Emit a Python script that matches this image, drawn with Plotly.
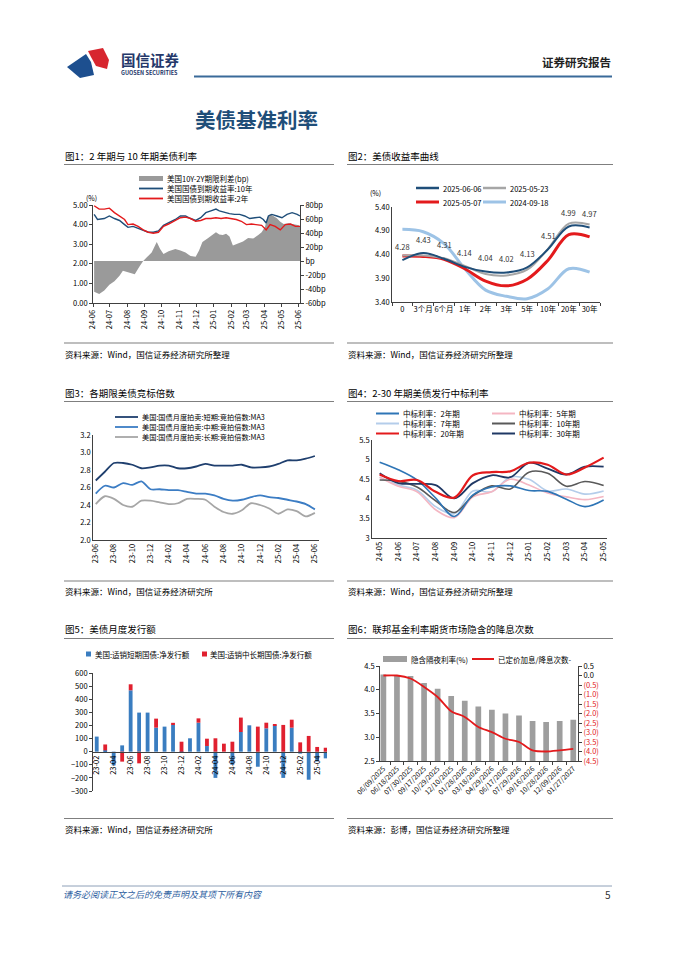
import plotly.graph_objects as go

W, H = 677, 957
FONT = "Noto Sans CJK SC"

# ================= DATA =================
# Chart 1: 2Y / 10Y UST yields (%) and 10Y-2Y spread (bp)
c1_10y_dates = ["2024-06-03","2024-06-09","2024-06-21","2024-06-30","2024-07-09","2024-07-18","2024-07-27","2024-08-02","2024-08-11","2024-08-20",
                "2024-08-29","2024-09-07","2024-09-16","2024-09-25","2024-10-04","2024-10-13","2024-10-25","2024-11-03","2024-11-12","2024-11-21",
                "2024-11-30","2024-12-09","2024-12-18","2024-12-27","2025-01-05","2025-01-11","2025-01-20","2025-01-29","2025-02-07","2025-02-16",
                "2025-02-25","2025-03-06","2025-03-15","2025-03-24","2025-03-30","2025-04-04","2025-04-08","2025-04-14","2025-04-23","2025-05-02",
                "2025-05-11","2025-05-20","2025-05-29","2025-06-03"]
c1_10y = [4.52,4.26,4.31,4.44,4.31,4.21,4.00,3.86,3.91,3.82,
          3.73,3.61,3.61,3.68,3.96,4.08,4.26,4.44,4.44,4.31,
          4.21,4.35,4.61,4.70,4.79,4.70,4.61,4.56,4.52,4.52,
          4.44,4.31,4.35,4.38,4.26,4.08,4.44,4.52,4.44,4.35,
          4.52,4.61,4.52,4.44]
c1_2y_dates = ["2024-06-03","2024-06-12","2024-06-21","2024-06-30","2024-07-09","2024-07-18","2024-07-27","2024-08-02","2024-08-11","2024-08-20",
               "2024-08-29","2024-09-07","2024-09-16","2024-09-25","2024-10-04","2024-10-13","2024-10-25","2024-11-03","2024-11-12","2024-11-21",
               "2024-11-30","2024-12-09","2024-12-18","2024-12-27","2025-01-05","2025-01-14","2025-01-23","2025-02-01","2025-02-10","2025-02-19",
               "2025-02-28","2025-03-09","2025-03-18","2025-03-27","2025-04-04","2025-04-11","2025-04-20","2025-04-29","2025-05-08","2025-05-17",
               "2025-05-26","2025-06-03"]
c1_2y = [4.96,4.79,4.79,4.84,4.61,4.44,4.26,4.00,4.03,3.91,
         3.73,3.61,3.56,3.61,3.91,4.03,4.21,4.35,4.38,4.31,
         4.17,4.21,4.31,4.31,4.35,4.31,4.35,4.31,4.26,4.17,
         4.00,4.03,4.00,3.96,3.73,4.00,3.91,3.73,4.00,4.03,
         3.91,3.91]
c1_spread_dates = ["2024-06-03","2024-06-12","2024-06-21","2024-06-30","2024-07-09","2024-07-18","2024-07-24","2024-08-02","2024-08-14","2024-08-23",
                   "2024-08-29","2024-09-04","2024-09-13","2024-09-19","2024-09-22","2024-09-28","2024-10-04","2024-10-13","2024-10-25","2024-11-03",
                   "2024-11-12","2024-11-21","2024-11-30","2024-12-06","2024-12-12","2024-12-21","2024-12-30","2025-01-05","2025-01-11","2025-01-17",
                   "2025-01-23","2025-01-29","2025-02-04","2025-02-13","2025-02-22","2025-03-03","2025-03-12","2025-03-21","2025-03-27","2025-04-02",
                   "2025-04-06","2025-04-11","2025-04-17","2025-04-23","2025-04-29","2025-05-05","2025-05-14","2025-05-23","2025-06-01","2025-06-03"]
c1_spread = [-44,-47,-42,-34,-29,-21,-14,-16,-19,-7,
             0,5,12,22,27,17,10,14,17,15,
             12,7,6,15,27,32,37,41,38,37,
             39,35,22,25,28,33,32,37,41,49,
             62,67,64,61,56,53,54,52,51,49]
c1_bp_ticks = [80, 60, 40, 20, 0, -20, -40, -60]
c1_bp_labels = ["80bp", "60bp", "40bp", "20bp", "bp", "-20bp", "-40bp", "-60bp"]

# Chart 2: yield curves (%)
c2_tenors = ["0", "3个月", "6个月", "1年", "2年", "3年", "5年", "10年", "20年", "30年"]
c2_20250606 = [4.28, 4.43, 4.31, 4.14, 4.04, 4.02, 4.13, 4.51, 4.99, 4.97]
c2_20250523 = [4.38, 4.38, 4.32, 4.16, 3.99, 3.96, 4.08, 4.52, 5.05, 5.03]
c2_20250507 = [4.37, 4.36, 4.30, 4.10, 3.84, 3.74, 3.88, 4.28, 4.82, 4.77]
c2_20240918 = [4.93, 4.88, 4.63, 4.10, 3.65, 3.52, 3.47, 3.68, 4.10, 4.03]

# Chart 3: bid-to-cover MA3
c3_months = ["23-06","23-07","23-08","23-09","23-10","23-11","23-12","24-01","24-02","24-03","24-04","24-05","24-06",
             "24-07","24-08","24-09","24-10","24-11","24-12","25-01","25-02","25-03","25-04","25-05","25-06"]
c3_short = [2.68,2.78,2.88,2.88,2.86,2.82,2.83,2.85,2.85,2.82,2.82,2.84,2.87,2.85,2.85,2.85,2.86,2.83,2.83,2.84,2.87,2.91,2.91,2.93,2.96]
c3_mid   = [2.53,2.62,2.60,2.65,2.63,2.67,2.58,2.58,2.57,2.57,2.55,2.53,2.53,2.51,2.47,2.45,2.46,2.49,2.51,2.49,2.48,2.46,2.44,2.41,2.35]
c3_long  = [2.41,2.50,2.47,2.40,2.38,2.45,2.45,2.43,2.41,2.42,2.47,2.47,2.46,2.38,2.32,2.30,2.34,2.42,2.40,2.36,2.30,2.35,2.33,2.27,2.31]

# Chart 4: auction high yields (%)
c4_months = ["24-05","24-06","24-07","24-08","24-09","24-10","24-11","24-12","25-01","25-02","25-03","25-04","25-05"]
c4_2y  = [4.93, 4.74, 4.48, 4.02, 3.55, 4.10, 4.30, 4.33, 4.21, 4.19, 3.99, 3.80, 3.97]
c4_5y  = [4.55, 4.32, 4.18, 3.72, 3.52, 4.05, 4.18, 4.50, 4.35, 4.15, 4.05, 3.98, 4.06]
c4_7y  = [4.55, 4.35, 4.22, 3.80, 3.62, 4.20, 4.18, 4.55, 4.50, 4.20, 4.25, 4.12, 4.20]
c4_10y = [4.48, 4.45, 4.30, 3.95, 3.65, 4.08, 4.33, 4.25, 4.68, 4.65, 4.32, 4.44, 4.34]
c4_20y = [4.62, 4.45, 4.48, 4.18, 4.03, 4.60, 4.68, 4.70, 4.92, 4.87, 4.62, 4.80, 5.05]
c4_30y = [4.65, 4.40, 4.38, 4.35, 4.01, 4.40, 4.60, 4.55, 4.92, 4.77, 4.62, 4.82, 4.82]

# Chart 5: monthly net issuance
c5_months = ["23-02","23-03","23-04","23-05","23-06","23-07","23-08","23-09","23-10","23-11","23-12","24-01","24-02","24-03",
             "24-04","24-05","24-06","24-07","24-08","24-09","24-10","24-11","24-12","25-01","25-02","25-03","25-04","25-05"]
c5_bills = [115, 10, -105, 48, 468, 298, 298, 183, 191, 205, -10, 102, 221, 43,
            -200, 0, -100, 150, 201, -115, 178, 200, -200, 183, -15, -214, -75, -51]
c5_coupons = [0, 45, 0, -76, 46, -89, 0, 69, 0, 15, 76, 0, 33, 56,
              102, 61, 76, 110, 0, 191, 43, 10, 204, 61, 71, 120, 36, 30]

# Chart 6: fed funds futures implied rate and priced cuts
c6_meetings = ["06/09/2025","06/18/2025","07/30/2025","09/17/2025","10/29/2025","12/10/2025","01/28/2026","03/18/2026",
               "04/29/2026","06/17/2026","07/29/2026","09/16/2026","10/28/2026","12/09/2026","01/27/2027"]
c6_rate = [4.32, 4.31, 4.29, 4.14, 4.02, 3.87, 3.77, 3.65, 3.58, 3.50, 3.46, 3.34, 3.32, 3.34, 3.37]
c6_cuts = [0.0, 0.0, -0.16, -0.60, -1.13, -1.88, -2.18, -2.71, -2.98, -3.33, -3.50, -3.94, -4.00, -3.94, -3.86]
c6_right_ticks = [0.5, 0.0, -0.5, -1.0, -1.5, -2.0, -2.5, -3.0, -3.5, -4.0, -4.5]

# ================= HELPERS =================
def X(p):
    return p / W

def Y(p):
    return 1 - p / H

shapes, annots = [], []

def seg(x0, x1, y, color, width):
    shapes.append(dict(type="line", xref="paper", yref="paper", x0=X(x0), x1=X(x1), y0=Y(y), y1=Y(y),
                       line=dict(color=color, width=width)))

def box(x0, y0, x1, y1, color):
    shapes.append(dict(type="rect", xref="paper", yref="paper", x0=X(x0), x1=X(x1), y0=Y(y1), y1=Y(y0),
                       fillcolor=color, line=dict(width=0)))

def txt(x, y, s, size=7.5, color="#000", xanchor="left", yanchor="middle"):
    annots.append(dict(xref="paper", yref="paper", x=X(x), y=Y(y), text=s, showarrow=False,
                       xanchor=xanchor, yanchor=yanchor, borderpad=0,
                       font=dict(family=FONT, size=size, color=color)))

AX = dict(showline=True, linecolor="#404040", linewidth=0.8, showgrid=False, zeroline=False, automargin=False,
          ticks="outside", ticklen=3, tickcolor="#404040", tickwidth=0.8,
          tickfont=dict(family=FONT, size=7.5, color="#000"))

NAVY = "#1f4e79"
RED = "#e31a1c"
GRAY = "#a6a6a6"

fig = go.Figure()

# ---------- Chart 1 ----------
fig.add_trace(go.Scatter(x=c1_spread_dates, y=c1_spread, xaxis="x", yaxis="y", mode="lines",
                         line=dict(width=0, color="#9a9a9a"), fill="tozeroy", fillcolor="#9a9a9a"))
fig.add_trace(go.Scatter(x=c1_10y_dates, y=c1_10y, xaxis="x", yaxis="y2", mode="lines",
                         line=dict(color=NAVY, width=1.4)))
fig.add_trace(go.Scatter(x=c1_2y_dates, y=c1_2y, xaxis="x", yaxis="y2", mode="lines",
                         line=dict(color=RED, width=1.4)))

# ---------- Chart 2 ----------
for ys, col, wd in [(c2_20240918, "#9dc3e6", 3), (c2_20250507, RED, 3),
                    (c2_20250523, GRAY, 2), (c2_20250606, NAVY, 2)]:
    fig.add_trace(go.Scatter(x=c2_tenors, y=ys, xaxis="x2", yaxis="y3", mode="lines",
                             line=dict(color=col, width=wd, shape="spline", smoothing=1.0)))
for t, v in zip(c2_tenors, c2_20250606):
    annots.append(dict(xref="x2", yref="y3", x=t, y=v, yshift=14, text=f"{v:.2f}", showarrow=False,
                       font=dict(family=FONT, size=7.5, color="#333")))

# ---------- Chart 3 ----------
for ys, col in [(c3_long, GRAY), (c3_mid, "#3c7dc4"), (c3_short, "#1f3f6e")]:
    fig.add_trace(go.Scatter(x=c3_months, y=ys, xaxis="x3", yaxis="y4", mode="lines",
                             line=dict(color=col, width=1.8, shape="spline", smoothing=0.8)))

# ---------- Chart 4 ----------
c4_styles = [(c4_7y, "#b4cdea", 1.6), (c4_5y, "#f4b6c2", 1.6), (c4_10y, "#595959", 1.6),
             (c4_2y, "#2e75b6", 1.6), (c4_30y, "#1f3864", 1.8), (c4_20y, RED, 2.2)]
for ys, col, wd in c4_styles:
    fig.add_trace(go.Scatter(x=c4_months, y=ys, xaxis="x4", yaxis="y5", mode="lines",
                             line=dict(color=col, width=wd, shape="spline", smoothing=1.0)))

# ---------- Chart 5 ----------
fig.add_trace(go.Bar(x=c5_months, y=c5_bills, xaxis="x5", yaxis="y6", marker=dict(color="#3a7dc0", line=dict(width=0)), width=0.45))
fig.add_trace(go.Bar(x=c5_months, y=c5_coupons, xaxis="x5", yaxis="y6", marker=dict(color="#e0202f", line=dict(width=0)), width=0.45))

# ---------- Chart 6 ----------
fig.add_trace(go.Bar(x=c6_meetings, y=c6_rate, xaxis="x6", yaxis="y7", marker=dict(color="#9e9e9e", line=dict(width=0)), width=0.42))
fig.add_trace(go.Scatter(x=c6_meetings, y=c6_cuts, xaxis="x6", yaxis="y8", mode="lines",
                         line=dict(color=RED, width=1.8, shape="spline", smoothing=0.8)))

# ================= LAYOUT =================
c5_yr = [-300, 600]
c5_d0, c5_d1 = Y(791), Y(673)
c5_zero = c5_d0 + (0 - c5_yr[0]) / (c5_yr[1] - c5_yr[0]) * (c5_d1 - c5_d0)

red_span = "<span style='color:#e31a1c'>({:.1f})</span>"
c6_right_text = [f"{v:.1f}" if v >= 0 else red_span.format(-v) for v in c6_right_ticks]

layout = dict(
    template="none",
    width=W, height=H, autosize=False,
    margin=dict(l=0, r=0, t=0, b=0, pad=0, autoexpand=False),
    paper_bgcolor="white", plot_bgcolor="white", showlegend=False,
    font=dict(family=FONT, size=7.5, color="#000"), barmode="relative",
    # chart 1
    xaxis=dict(AX, domain=[X(93), X(300)], anchor="y", type="date",
               range=["2024-06-01", "2025-06-03"], dtick="M1", tick0="2024-06-01",
               tickformat="%y-%m", tickangle=-90),
    yaxis=dict(AX, domain=[Y(303), Y(205)], anchor="x", side="right", range=[-60, 80],
               tickmode="array", tickvals=c1_bp_ticks, ticktext=c1_bp_labels),
    yaxis2=dict(AX, overlaying="y", anchor="x", side="left", range=[0, 5], dtick=1, tickformat=".2f"),
    # chart 2
    xaxis2=dict(AX, domain=[X(392), X(600)], anchor="y3", type="category", range=[-0.5, 9.5],
                tickson="boundaries", tickangle=0),
    yaxis3=dict(AX, domain=[Y(302), Y(207)], anchor="x2", range=[3.4, 5.4],
                tickmode="array", tickvals=[3.4, 3.9, 4.4, 4.9, 5.4], tickformat=".2f", ticks=""),
    # chart 3
    xaxis3=dict(AX, domain=[X(93), X(319)], anchor="y4", type="category", range=[-0.3, 24.45],
                tickmode="array", tickvals=c3_months[::2], tickangle=-90, ticks=""),
    yaxis4=dict(AX, domain=[Y(540), Y(435)], anchor="x3", range=[2.0, 3.2], dtick=0.2, tickformat=".1f", ticks=""),
    # chart 4
    xaxis4=dict(AX, domain=[X(372), X(607)], anchor="y5", type="category", range=[-0.41, 12.18],
                tickangle=-90, ticks=""),
    yaxis5=dict(AX, domain=[Y(538), Y(440)], anchor="x4", range=[3, 5.5], dtick=0.5, ticks=""),
    # chart 5
    xaxis5=dict(AX, domain=[X(93), X(327)], anchor="free", position=c5_zero, type="category",
                range=[-0.44, 27.16], tickmode="array", tickvals=c5_months[::2], tickangle=-90, ticks=""),
    yaxis6=dict(AX, domain=[c5_d0, c5_d1], anchor="x5", range=c5_yr, dtick=100),
    # chart 6
    xaxis6=dict(AX, domain=[X(380), X(578)], anchor="y7", type="category", range=[-0.25, 14.35],
                tickson="boundaries", tickangle=-45, tickfont=dict(family=FONT, size=7, color="#000")),
    yaxis7=dict(AX, domain=[Y(761), Y(666)], anchor="x6", side="left", range=[2.5, 4.5], dtick=0.5, tickformat=".1f"),
    yaxis8=dict(AX, overlaying="y7", anchor="x6", side="right", range=[-4.5, 0.5],
                tickmode="array", tickvals=c6_right_ticks, ticktext=c6_right_text),
)

# ================= PAGE DECORATION =================
# logo
shapes.append(dict(type="path", xref="paper", yref="paper", fillcolor="#d7262f", line=dict(width=0),
                   path=f"M {X(88)},{Y(51)} L {X(103)},{Y(48)} L {X(109)},{Y(60)} L {X(107)},{Y(69)} "
                        f"L {X(96)},{Y(66)} L {X(91)},{Y(57)} Z"))
shapes.append(dict(type="path", xref="paper", yref="paper", fillcolor="#1d4f8f", line=dict(width=0),
                   path=f"M {X(67)},{Y(67)} L {X(86)},{Y(54)} L {X(91)},{Y(62)} L {X(94)},{Y(75)} "
                        f"L {X(80)},{Y(78)} Z"))
txt(120, 59, "<b>国信证券</b>", size=14.5, color="#25386a")
txt(120, 72.5, "<b>GUOSEN SECURITIES</b>", size=5.5, color="#25386a")
txt(612, 62, "<b>证券研究报告</b>", size=11.5, color="#222", xanchor="right")
seg(194, 612, 76.5, "#3a6a99", 2)
txt(194, 119, "<b>美债基准利率</b>", size=20.5, color="#1f4e79")

# chart titles and rules
titles = [(64, 156, "图1：2 年期与 10 年期美债利率"), (347, 156, "图2：美债收益率曲线"),
          (64, 393, "图3：各期限美债竞标倍数"), (347, 393, "图4：2-30 年期美债发行中标利率"),
          (64, 629, "图5：美债月度发行额"), (347, 629, "图6：联邦基金利率期货市场隐含的降息次数")]
for x, y, s in titles:
    txt(x, y, s, size=9.5)
for y in (164.5, 401.5, 638.5):
    seg(64, 334, y, "#7f7f7f", 1.1)
    seg(347, 613, y, "#7f7f7f", 1.1)
for y in (343, 581, 818.5):
    seg(64, 334, y, "#7f7f7f", 1.1)
    seg(347, 613, y, "#7f7f7f", 1.1)
sources = [(64, 354, "资料来源：Wind，国信证券经济研究所整理"), (347, 354, "资料来源：Wind，国信证券经济研究所整理"),
           (64, 591, "资料来源：Wind，国信证券经济研究所"), (347, 591, "资料来源：Wind，国信证券经济研究所整理"),
           (64, 828.5, "资料来源：Wind，国信证券经济研究所"), (347, 828.5, "资料来源：彭博，国信证券经济研究所整理")]
for x, y, s in sources:
    txt(x, y, s, size=8.5)

# axis unit labels
txt(91, 198, "(%)", size=7, xanchor="center")
txt(375, 193, "(%)", size=7, xanchor="center")

# legends - chart 1
box(139, 176, 163, 181, "#9a9a9a"); txt(166, 178.5, "美国10Y-2Y期限利差(bp)")
seg(139, 163, 188.5, NAVY, 1.8); txt(166, 188.5, "美国国债到期收益率:10年")
seg(139, 163, 198.5, RED, 1.8); txt(166, 198.5, "美国国债到期收益率:2年")
# chart 2
seg(416, 439, 188, NAVY, 2.5); txt(442, 188, "2025-06-06")
seg(483, 506, 188, GRAY, 2.5); txt(509, 188, "2025-05-23")
seg(416, 439, 202, RED, 3); txt(442, 202, "2025-05-07")
seg(483, 506, 202, "#9dc3e6", 3); txt(509, 202, "2024-09-18")
# chart 3
for y, col, s in [(417, "#1f3f6e", "短期"), (427, "#3c7dc4", "中期"), (437, GRAY, "长期")]:
    seg(115, 138, y, col, 1.8); txt(141, y, f"美国:国债月度拍卖:{s}:竞拍倍数:MA3", size=7.2)
# chart 4
for y, col, s in [(413.5, "#2e75b6", "2年期"), (423.5, "#b4cdea", "7年期"), (433.5, RED, "20年期")]:
    seg(376, 399, y, col, 2); txt(402, y, f"中标利率：{s}")
for y, col, s in [(413.5, "#f4b6c2", "5年期"), (423.5, "#595959", "10年期"), (433.5, "#1f3864", "30年期")]:
    seg(492, 515, y, col, 2); txt(518, y, f"中标利率：{s}")
# chart 5
box(86, 651.5, 91, 656.5, "#3a7dc0"); txt(94, 654, "美国:适销短期国债:净发行额")
box(202, 651.5, 207, 656.5, "#e0202f"); txt(209, 654, "美国:适销中长期国债:净发行额")
# chart 6
box(383, 656, 407, 662, "#9e9e9e"); txt(410, 659, "隐含隔夜利率(%)")
seg(472, 494, 659, RED, 2); txt(497, 659, "已定价加息/降息次数-")

# footer
seg(62, 612, 886, "#8ea0b8", 1)
txt(62, 894, "<i>请务必阅读正文之后的免责声明及其项下所有内容</i>", size=9, color="#2f5f9f")
txt(612, 894, "5", size=10, color="#333", xanchor="right")

layout["shapes"] = shapes
layout["annotations"] = annots
fig.update_layout(**layout)

fig.write_html("out.html", config={"displayModeBar": False, "responsive": False},
               post_script="document.body.style.margin='0';")
